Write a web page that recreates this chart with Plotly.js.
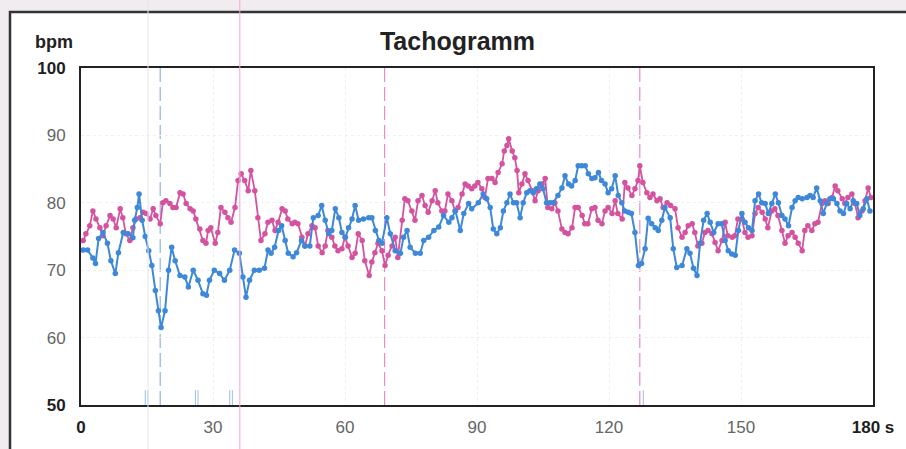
<!DOCTYPE html>
<html>
<head>
<meta charset="utf-8">
<script src="https://cdn.plot.ly/plotly-3.0.1.min.js"></script>
<style>html,body{margin:0;padding:0;background:#f1ecf0;}#chart{width:906px;height:449px;}</style>
</head>
<body>
<div id="chart"></div>
<script>
// ---- data ----
var tBlue = [0.5,1.5,2.7,3.3,4,5,6,6.8,7.8,8.5,9.6,10.7,11.8,12.2,12.8,13.2,13.9,14.6,15.4,16.1,16.9,17.6,18.2,19.1,19.9,20.6,21.4,22.5,23.6,24.4,25.5,26.6,27.7,28.5,29.2,30.3,31.5,32.6,33.8,34.9,36,36.8,37.5,38.3,39.4,40.5,41.7,42.5,43.2,44,44.9,45.6,46.4,47.1,48.2,49,50.1,50.9,52,52.8,53.9,54.7,55.5,56.3,57,57.8,58.6,59.3,60.1,60.8,61.6,62.3,63.1,64.2,65.4,66.1,66.9,67.7,68.4,69.5,70.3,71.4,72.6,73.3,74.1,74.8,76,77.1,77.9,79,80.2,81.3,82.4,83.6,84.3,85.1,86.2,87,88.1,88.8,90.3,91.4,92.2,93,93.7,94.5,95.3,96,96.8,97.5,98.3,99,99.8,100.5,101.3,102,102.8,103.5,104.3,105,105.8,106.6,107.3,108.4,109.3,110,110.8,111.5,112.3,113,113.8,114.6,115.3,116.1,116.8,117.6,118.3,119.1,119.8,120.6,121.4,122.1,122.9,123.6,124.4,125.1,125.9,126.7,127.4,128.2,128.9,129.7,130.5,131.2,132,132.7,133.9,134.6,135.4,136.6,137.7,138.4,139.2,140,140.7,141.5,142.3,143,143.8,144.8,145.6,146.4,147.1,147.9,148.7,149.4,150.2,150.9,151.7,152.5,153.2,154,154.7,155.5,156.2,157,157.8,158.5,159.3,160,160.8,161.6,162.3,163,163.9,165,165.7,166.4,167.2,168,168.7,169.5,170.2,171,171.8,172.5,173.3,174,174.8,175.5,176.3,177,177.8,178.6,179.3];
var hrBlue = [73,73,71.8,71,74.7,75.6,74,71.4,69.5,72.6,75.6,75.4,74.8,77.4,79.3,81.3,77.4,75,72.9,70.7,67,64,61.5,64,70,73.4,71.4,69.2,69,67.5,70,68.5,66.5,66.3,68.5,70,69.5,68.5,70,73,72.5,69,66,68.5,70,70,70.3,73,72.5,73.4,75.9,76.6,74.4,72.5,72,72.6,74.4,73.6,73.6,77.8,78.1,79.6,77.4,75.4,75.9,79.1,77.8,75.6,74.9,76.3,77.6,79.6,77.4,77.6,77.8,77.8,75.9,74.4,74,77.8,75.4,72.9,72.5,74.9,75.9,73.4,72.5,72.5,74.4,74.9,75.9,76.4,78.1,77.1,77.8,78.8,75.9,78.4,79.9,79.1,80,81.3,80.6,79.3,76.1,75.4,76.3,78.8,80,81.3,80,80,77.8,80,81.5,81.8,81.5,82.1,82.8,82.1,80,80,80,81.1,82.2,84,82.8,82.5,83.3,85.5,85.5,85.5,84.3,83.6,83.7,84.5,83.3,82.8,81.5,82.1,84,81.1,80,78.8,78.6,78.4,75.6,70.7,71,73.2,77.7,76.9,76.3,75.9,77.4,79.3,77.8,73.2,70.4,70.7,73.2,72.5,70.3,69.2,74,77.4,78.4,77.1,75.6,76.9,76.9,74.4,72.9,72.4,72.2,75.9,78.4,77.1,76.3,75.9,80.3,81.3,80,79.9,78.4,79.9,81.3,80,78.1,77.6,76.6,79.3,80.3,80.8,80.6,80.8,81.1,80.8,82.2,80.3,78.4,79.9,80.6,80.6,79.9,78.8,78.4,79.9,79.1,80.3,79.9,78.1,79.1,80.6,78.8];

var tPink = [0.5,1.1,2,2.7,3.4,4.3,5,5.7,6.6,7.3,8,8.9,9.5,10.2,11.1,11.8,12.5,13.4,14.1,14.8,15.7,16.4,17,18,18.6,19.3,20.2,20.9,21.6,22.5,23.2,23.9,24.8,25.5,26.1,27,27.7,28.4,28.9,29.5,30.5,31.1,31.8,32.7,33.4,34.1,35,35.7,36.4,37.2,38,38.6,39.5,40.2,40.9,41.8,42.5,43.4,44.1,44.8,45.7,46.4,47,48,48.6,49.3,50.2,50.9,51.6,52.5,53.2,53.9,54.8,55.5,56.1,57,57.7,58.4,59.3,60,60.7,61.6,62.3,63,63.9,64.5,65.5,66.1,66.8,67.5,68.4,69.1,69.8,70.7,71.4,72,73,73.6,74.3,75.2,75.9,76.6,77.5,78.2,78.9,79.8,80.5,81.1,82,82.7,83.4,84.3,85,85.7,86.6,87.3,88,88.8,89.5,90.2,91.1,91.8,92.5,93.4,94.1,94.8,95.7,96.2,96.8,97.2,98,98.6,99.1,99.5,100.2,100.9,101.6,102.5,103.2,103.9,104.8,105.5,106.1,107,107.7,108.4,109.3,110,110.7,111.6,112.3,113,113.9,114.5,115.2,116.1,116.8,117.5,118.4,119.1,119.8,120.7,121.4,122,123,123.6,124.3,125.2,125.9,126.6,127,127.7,128.6,129.3,130,130.9,131.6,132.3,133.2,134,135,135.7,136.6,137.3,138,138.9,139.5,140.2,141.1,141.8,142.5,143.4,144.1,144.8,145.7,146.4,147,148,148.6,149.3,150.2,150.9,151.6,152.5,153.2,153.9,154.8,155.5,156.1,157,157.7,158.4,159.3,160,160.7,161.6,162.3,163,163.9,164.5,165.2,166.1,166.8,167.5,168.4,169.1,169.8,170.7,171.4,172,173,173.6,174.3,175.2,175.9,176.6,177.5,178.2,178.9,179.5];
var hrPink = [74.4,75.4,76.6,78.8,77.6,76.3,75.1,76.6,78.1,77.6,76.3,79.1,77.8,75.4,74.4,76.3,77.6,77.8,78.6,78.4,77.6,79.1,78.1,76.9,80,80.3,79.9,79.3,79.3,81.5,81.3,79.9,79.1,78.8,77.6,76.1,74.4,74,75.9,76.3,74,75.6,79.3,78.6,77.8,77.1,79.3,83.3,84.3,83.3,81.8,84.8,81.8,77.8,74.4,75.4,77.1,77.4,75.9,77.1,79.1,78.8,77.6,76.9,77.1,76.9,74.9,73.6,75.4,76.6,76.3,73.6,72.6,73.6,75.9,74.9,73.6,72.9,73.2,74.9,73.6,71.9,72.5,75.4,74.4,71.4,69.2,71.2,72.6,74,72.9,70.7,72.2,73.6,74.9,71.9,77.4,80.6,80.3,78.8,77.4,80.3,81.1,79.6,78.6,80.3,81.8,80,78.8,78.8,81.3,80.3,78.8,79.3,81.3,82.8,82.5,82.1,82.5,83,82.1,80.8,83.6,83.6,83,84.5,85.8,87.7,88.5,89.5,87.7,86.7,84.8,81.5,82.8,84.3,83.3,81.8,80.3,81.8,82.8,83.6,79.3,79.1,80,78.8,76.1,75.6,75.4,76.3,79.3,79.3,78.1,76.9,76.9,79.1,79.3,77.4,76.9,78.8,79.3,78.4,80.3,78.4,77.6,83,82.2,81.1,82.1,83.3,85.5,83,81.5,80.8,81.3,80.3,80.6,79.3,80,79.6,79.1,76.3,74.9,75.6,76.6,76.9,75.6,73.6,74,75.6,75.9,75.4,74.1,72.9,74.4,77.1,75.1,74.9,75.1,77.6,77.6,75.6,74.9,75.1,78.4,79.3,78.6,77.6,76.3,78.8,79.1,78.1,75.9,74,75.1,75.6,74.9,74,72.9,75.9,76.6,75.9,76.9,77.1,79.9,80.3,79.9,80.8,82.5,81.8,80.6,79.9,80.8,81.3,79.9,77.8,78.8,80.3,82.2,80.8];

var artifactTimes = [14.6, 15.2, 26.0, 26.6, 33.8, 34.4, 127.8];
var blueEvents = [18];
var pinkEvents = [69, 127];
var markLine = [36.1];
var xTickVals = [0, 30, 60, 90, 120, 150, 180];
var xTickText = ['<span style="color:#1e1e1e"><b>0</b></span>', '30', '60', '90', '120', '150',
                 '<span style="color:#1e1e1e"><b>180 s</b></span>'];
var yTickVals = [50, 60, 70, 80, 90, 100];
var yTickText = ['<span style="color:#1e1e1e"><b>50</b></span>', '60', '70', '80', '90',
                 '<span style="color:#1e1e1e"><b>100</b></span>'];

// ---- build ----
var BLUE = '#3d88d9', PINK = '#d4529f';
var ax = [], ay = [];
artifactTimes.forEach(function (t) { ax.push(t, t, null); ay.push(50, 52.2, null); });

var traces = [
  {x: ax, y: ay, mode: 'lines', line: {color: '#9dbde8', width: 1}, hoverinfo: 'skip', showlegend: false},
  {x: tPink, y: hrPink, mode: 'lines+markers', line: {color: PINK, width: 1.8},
   marker: {color: PINK, size: 5.5}, showlegend: false},
  {x: tBlue, y: hrBlue, mode: 'lines+markers', line: {color: BLUE, width: 2},
   marker: {color: BLUE, size: 5.5}, showlegend: false}
];

var W = 906, H = 449, L = 81, R = 33, T = 68, B = 44;
var pw = W - L - R, ph = H - T - B;
function px(x) { return (x - L) / pw; }
function py(y) { return (H - B - y) / ph; }

var shapes = [
  // outer frame
  {type: 'rect', xref: 'paper', yref: 'paper', x0: px(10), x1: px(930), y0: py(470), y1: py(12),
   line: {color: '#333', width: 2.5}, fillcolor: '#ffffff', layer: 'below'},
  // faint scan line
  {type: 'line', xref: 'paper', yref: 'paper', x0: px(148), x1: px(148), y0: py(449), y1: py(0),
   line: {color: '#e4e4ee', width: 1}, layer: 'above'}
];
markLine.forEach(function (t) {
  shapes.push({type: 'line', xref: 'x', yref: 'paper', x0: t, x1: t, y0: py(449), y1: py(0),
    line: {color: '#f2a6d6', width: 1}, layer: 'above'});
});
blueEvents.forEach(function (t) {
  shapes.push({type: 'line', xref: 'x', yref: 'paper', x0: t, x1: t, y0: 0, y1: 1,
    line: {color: '#8fb3e6', width: 1.2, dash: '14px,5px'}, layer: 'below'});
});
pinkEvents.forEach(function (t) {
  shapes.push({type: 'line', xref: 'x', yref: 'paper', x0: t, x1: t, y0: 0, y1: 1,
    line: {color: '#e98bcb', width: 1.2, dash: '14px,5px'}, layer: 'below'});
});

var layout = {
  width: W, height: H,
  margin: {l: L, r: R, t: T, b: B, pad: 0},
  paper_bgcolor: '#f1ecf0',
  plot_bgcolor: '#ffffff',
  font: {family: 'Liberation Sans, Arial, sans-serif', color: '#666'},
  title: {text: '<b>Tachogramm</b>', font: {size: 25, color: '#222', family: 'Liberation Sans, Arial, sans-serif'},
          xref: 'container', x: 0.505, xanchor: 'center', yref: 'container', y: 1 - 41 / H, yanchor: 'middle'},
  xaxis: {range: [0, 180], tickvals: xTickVals, ticktext: xTickText, ticks: '', showline: true, mirror: true,
          linecolor: '#222', linewidth: 2, zeroline: false, showgrid: true, gridcolor: '#efefef', griddash: 'dot',
          gridwidth: 1, tickfont: {size: 17, color: '#666'}, ticklabelstandoff: 6, fixedrange: true},
  yaxis: {range: [50, 100], tickvals: yTickVals, ticktext: yTickText, ticks: '', showline: true, mirror: true,
          linecolor: '#222', linewidth: 2, zeroline: false, showgrid: true, gridcolor: '#efefef', griddash: 'dot',
          gridwidth: 1, tickfont: {size: 17, color: '#666'}, ticklabelstandoff: 10, fixedrange: true},
  shapes: shapes,
  annotations: [
    {text: '<b>bpm</b>', xref: 'paper', yref: 'paper', x: px(33), y: py(42), xanchor: 'left', yanchor: 'middle',
     showarrow: false, font: {size: 18, color: '#222'}}
  ],
  showlegend: false
};

Plotly.newPlot('chart', traces, layout, {displayModeBar: false, staticPlot: true});
</script>
</body>
</html>
